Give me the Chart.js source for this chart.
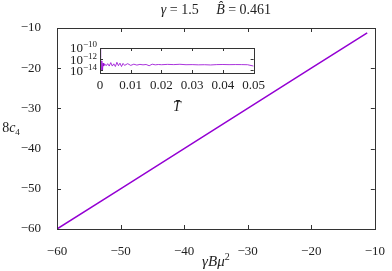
<!DOCTYPE html>
<html>
<head>
<meta charset="utf-8">
<script src="https://cdn.jsdelivr.net/npm/chart.js@4.4.0/dist/chart.umd.min.js"></script>
<style>
  body { margin: 0; background: #fff; }
  #wrap { position: relative; width: 392px; height: 271px; }
  #mainChart { position: absolute; left: 0; top: 0; }
  #insetChart { position: absolute; left: 60px; top: 38px; }
</style>
</head>
<body>
<div id="wrap">
  <canvas id="mainChart" width="392" height="271"></canvas>
  <canvas id="insetChart" width="210" height="82"></canvas>
</div>
<script>
/* Data */
const mainX = [-60, -50, -40, -30, -20, -11.2];
const mainY = [-60, -50, -40, -30, -20, -11.2];
const mainTicks = [-60, -50, -40, -30, -20, -10];

const insetT = [0, 0.0002, 0.0004, 0.0006, 0.0008, 0.001, 0.0012, 0.0015, 0.002, 0.0025,
  0.003, 0.0035, 0.004, 0.0045, 0.005, 0.0055, 0.006, 0.0065, 0.007, 0.0075, 0.008,
  0.009, 0.010, 0.011, 0.012, 0.013, 0.014, 0.015, 0.016, 0.017, 0.018, 0.019, 0.020,
  0.022, 0.024, 0.026, 0.028, 0.030, 0.032, 0.034, 0.036, 0.038, 0.040, 0.042, 0.044,
  0.046, 0.048, 0.050];
const insetErr = [1e-10, 2e-12, 1e-14, 5e-13, 8e-15, 2e-13, 6e-14, 1.5e-13, 7e-14, 1.6e-13,
  6e-14, 2.5e-13, 6e-14, 1.5e-13, 5e-14, 2.8e-13, 7e-14, 2e-13, 5e-14, 1.8e-13, 8e-14,
  1.6e-13, 8e-14, 1.3e-13, 9e-14, 1.2e-13, 1.0e-13, 1.15e-13, 7e-14, 1.3e-13, 1.0e-13,
  1.15e-13, 1.05e-13, 1.2e-13, 1.1e-13, 1.25e-13, 1.05e-13, 1.1e-13, 1.0e-13, 1.05e-13,
  9.5e-14, 1.1e-13, 1.15e-13, 1.08e-13, 1.12e-13, 1.1e-13, 1.05e-13, 6e-14];
const insetTTicks = [0, 0.01, 0.02, 0.03, 0.04, 0.05];
const insetYTicks = [1e-10, 1e-12, 1e-14];

const lineColor = "#9400d3";
const serif = "'Liberation Serif', 'DejaVu Serif', serif";

function minus(v) {
  return v < 0 ? "\u2212" + Math.abs(v) : String(v);
}

// draw a line of mixed-style text; part: [text, style, size, dy]
function drawRich(ctx, parts, x0, cy, align) {
  let w = 0;
  parts.forEach(p => {
    ctx.font = p[1] + " " + p[2] + "px " + serif;
    w += ctx.measureText(p[0]).width;
  });
  let x = align === "right" ? x0 - w : x0 - w / 2;
  ctx.textBaseline = "middle";
  ctx.textAlign = "left";
  ctx.fillStyle = "#222";
  parts.forEach(p => {
    ctx.font = p[1] + " " + p[2] + "px " + serif;
    ctx.fillText(p[0], x, cy + (p[3] || 0));
    x += ctx.measureText(p[0]).width;
  });
}

// inward ticks on all 4 sides + frame
function frameTicks(len) {
  return {
    id: "frameTicks",
    afterDraw(chart) {
      const ctx = chart.ctx;
      const a = chart.chartArea;
      const xs = chart.scales.x, ys = chart.scales.y;
      ctx.save();
      ctx.strokeStyle = "#333";
      ctx.lineWidth = 1;
      ctx.beginPath();
      xs.ticks.forEach(t => {
        const px = Math.round(xs.getPixelForValue(t.value)) + 0.5;
        ctx.moveTo(px, a.bottom); ctx.lineTo(px, a.bottom - len);
        ctx.moveTo(px, a.top); ctx.lineTo(px, a.top + len);
      });
      ys.ticks.forEach(t => {
        const py = Math.round(ys.getPixelForValue(t.value)) + 0.5;
        ctx.moveTo(a.left, py); ctx.lineTo(a.left + len, py);
        ctx.moveTo(a.right, py); ctx.lineTo(a.right - len, py);
      });
      ctx.stroke();
      ctx.strokeRect(Math.round(a.left) + 0.5, Math.round(a.top) + 0.5,
        Math.round(a.right - a.left), Math.round(a.bottom - a.top));
      ctx.restore();
    }
  };
}

/* Main chart */
const mainLabels = {
  id: "mainLabels",
  afterDraw(chart) {
    const ctx = chart.ctx;
    const a = chart.chartArea;
    const cx = (a.left + a.right) / 2;
    drawRich(ctx, [["\u03b3", "italic", 14], [" = 1.5     ", "normal", 14],
      ["B\u0302", "italic", 14], [" = 0.461", "normal", 14]], cx, 10);
    drawRich(ctx, [["\u03b3B\u03bc", "italic", 15], ["2", "normal", 10, -5]], cx, 262);
    drawRich(ctx, [["8", "normal", 14], ["c", "italic", 14], ["4", "normal", 9, 4]], 11, (a.top + a.bottom) / 2);
  }
};

new Chart(document.getElementById("mainChart"), {
  type: "line",
  data: {
    datasets: [{
      data: mainX.map((x, i) => ({ x: x, y: mainY[i] })),
      borderColor: lineColor,
      borderWidth: 1.5,
      pointRadius: 0,
      tension: 0
    }]
  },
  options: {
    responsive: false,
    animation: false,
    devicePixelRatio: 1,
    layout: { padding: { top: 28, right: 12, left: 0, bottom: 0 } },
    plugins: { legend: { display: false }, tooltip: { enabled: false } },
    scales: {
      x: {
        type: "linear", min: -60, max: -10,
        afterBuildTicks: s => { s.ticks = mainTicks.map(v => ({ value: v })); },
        afterFit: s => { s.height = 42; },
        grid: { display: false },
        border: { display: false },
        ticks: { color: "#222", padding: 7, maxRotation: 0, font: { family: serif, size: 13 },
          callback: v => minus(v) }
      },
      y: {
        type: "linear", min: -60, max: -10,
        afterBuildTicks: s => { s.ticks = mainTicks.map(v => ({ value: v })); },
        afterFit: s => { s.width = 57; },
        grid: { display: false },
        border: { display: false },
        ticks: { color: "#222", padding: 8, font: { family: serif, size: 13 },
          callback: v => minus(v) }
      }
    }
  },
  plugins: [frameTicks(4), mainLabels]
});

/* Inset chart */
const insetLabels = {
  id: "insetLabels",
  afterDraw(chart) {
    const a = chart.chartArea;
    const ys = chart.scales.y;
    drawRich(chart.ctx, [["T\u0304", "italic", 14]], (a.left + a.right) / 2, 69);
    // log tick labels as 10^n
    insetYTicks.forEach(v => {
      const e = Math.round(Math.log10(v));
      drawRich(chart.ctx, [["10", "normal", 13], [minus(e), "normal", 9, -4]],
        a.left - 3, ys.getPixelForValue(v) + 1, "right");
    });
  }
};

new Chart(document.getElementById("insetChart"), {
  type: "line",
  data: {
    datasets: [{
      data: insetT.map((t, i) => ({ x: t, y: insetErr[i] })),
      borderColor: lineColor,
      borderWidth: 0.8,
      pointRadius: 0,
      tension: 0
    }]
  },
  options: {
    responsive: false,
    animation: false,
    devicePixelRatio: 1,
    layout: { padding: { top: 10, right: 12, left: 0, bottom: 0 } },
    plugins: { legend: { display: false }, tooltip: { enabled: false } },
    scales: {
      x: {
        type: "linear", min: 0, max: 0.05,
        afterBuildTicks: s => { s.ticks = insetTTicks.map(v => ({ value: v })); },
        afterFit: s => { s.height = 47; },
        grid: { display: false, drawTicks: false },
        border: { display: false },
        ticks: { color: "#222", padding: 5, maxRotation: 0, font: { family: serif, size: 13 },
          callback: v => (v === 0 ? "0" : v.toFixed(2)) }
      },
      y: {
        type: "logarithmic", min: 3.5e-15, max: 1e-10,
        afterBuildTicks: s => { s.ticks = insetYTicks.map(v => ({ value: v })); },
        afterFit: s => { s.width = 40; },
        grid: { display: false },
        border: { display: false },
        ticks: { display: false }
      }
    }
  },
  plugins: [frameTicks(3), insetLabels]
});
</script>
</body>
</html>
